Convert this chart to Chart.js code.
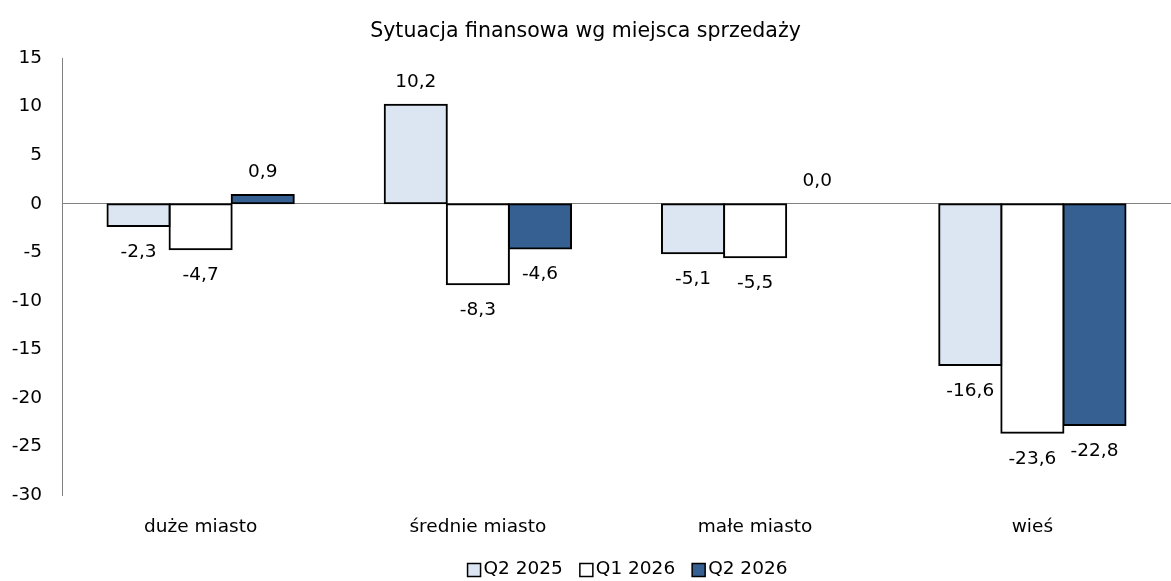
<!DOCTYPE html>
<html>
<head>
<meta charset="utf-8">
<script src="https://cdn.jsdelivr.net/npm/chart.js@4.4.1/dist/chart.umd.min.js"></script>
<style>
  html, body { margin: 0; padding: 0; background: #fff; overflow: hidden; }
  #wrap { position: relative; width: 1171px; height: 581px; }
</style>
</head>
<body>
<div id="wrap"><canvas id="chart"></canvas></div>
<script>
const chartTitle = 'Sytuacja finansowa wg miejsca sprzedaży';
const categories = ['duże miasto', 'średnie miasto', 'małe miasto', 'wieś'];
const seriesNames = ['Q2 2025', 'Q1 2026', 'Q2 2026'];
const q2_2025 = [-2.3, 10.2, -5.1, -16.6];
const q1_2026 = [-4.7, -8.3, -5.5, -23.6];
const q2_2026 = [0.9, -4.6, 0.0, -22.8];
const yTicks = [15, 10, 5, 0, -5, -10, -15, -20, -25, -30];

const FONT = '"DejaVu Sans", sans-serif';
const fillColors = ['#dce6f2', '#ffffff', '#376092'];

Chart.defaults.font.family = FONT;
Chart.defaults.color = '#000';

// value labels above/below each bar, Polish decimal comma
const barLabels = {
  id: 'barLabels',
  afterDatasetsDraw(chart) {
    const { ctx } = chart;
    ctx.save();
    ctx.font = '18.5px ' + FONT;
    ctx.fillStyle = '#000';
    ctx.textAlign = 'center';
    ctx.textBaseline = 'middle';
    chart.data.datasets.forEach((ds, i) => {
      chart.getDatasetMeta(i).data.forEach((bar, j) => {
        const v = ds.data[j];
        const txt = v.toFixed(1).replace('.', ',');
        const y = v >= 0 ? bar.y - 23 : bar.y + 26;
        ctx.fillText(txt, bar.x, y);
      });
    });
    ctx.restore();
  }
};

// Excel-style legend: small box right next to the text, a bit right of centre
const boxLegend = {
  id: 'boxLegend',
  afterDraw(chart) {
    const { ctx, chartArea } = chart;
    const box = 13, gap = 3, spacing = 17;
    ctx.save();
    ctx.font = '18.5px ' + FONT;
    ctx.textBaseline = 'middle';
    ctx.textAlign = 'left';
    const items = chart.data.datasets.map(ds => ({
      ds, w: box + gap + ctx.measureText(ds.label).width
    }));
    const total = items.reduce((s, it) => s + it.w, 0) + spacing * (items.length - 1);
    let x = chart.width / 2 + 42 - total / 2;
    const y = chartArea.bottom + 74;
    items.forEach(({ ds, w }) => {
      ctx.fillStyle = ds.backgroundColor;
      ctx.fillRect(x, y - box / 2 + 1, box, box);
      ctx.strokeStyle = '#000';
      ctx.lineWidth = 1.5;
      ctx.strokeRect(x, y - box / 2 + 1, box, box);
      ctx.fillStyle = '#000';
      ctx.fillText(ds.label, x + box + gap, y);
      x += w + spacing;
    });
    ctx.restore();
  }
};

const datasets = [q2_2025, q1_2026, q2_2026].map((vals, i) => ({
  label: seriesNames[i],
  data: vals,
  backgroundColor: fillColors[i],
  borderColor: '#000',
  borderWidth: 2,
  borderSkipped: false,
  inflateAmount: 1,
  barPercentage: 1,
  categoryPercentage: 0.672
}));

new Chart(document.getElementById('chart'), {
  type: 'bar',
  data: { labels: categories, datasets: datasets },
  options: {
    responsive: true,
    maintainAspectRatio: false,
    animation: false,
    layout: { padding: { left: 0, right: 0, top: 0, bottom: 21.8 } },
    plugins: {
      title: {
        display: true,
        text: chartTitle,
        color: '#000',
        font: { size: 20.5, weight: 'normal' },
        padding: { top: 19, bottom: 14.5 }
      },
      legend: { display: false },
      tooltip: { enabled: false }
    },
    scales: {
      x: {
        border: { display: false },
        grid: { display: false, drawTicks: false },
        ticks: { font: { size: 18.5 }, padding: 21, color: '#000' }
      },
      y: {
        min: -30,
        max: 15,
        afterFit: (scale) => { scale.width = 62; },
        afterBuildTicks: (scale) => { scale.ticks = yTicks.map(v => ({ value: v })); },
        border: { display: true, color: '#808080', width: 1 },
        grid: {
          drawTicks: false,
          color: (ctx) => ctx.tick && ctx.tick.value === 0 ? '#808080' : 'rgba(0,0,0,0)'
        },
        ticks: {
          font: { size: 18.5 },
          padding: 20,
          color: '#000',
          callback: (v) => String(v)
        }
      }
    }
  },
  plugins: [barLabels, boxLegend]
});
</script>
</body>
</html>
